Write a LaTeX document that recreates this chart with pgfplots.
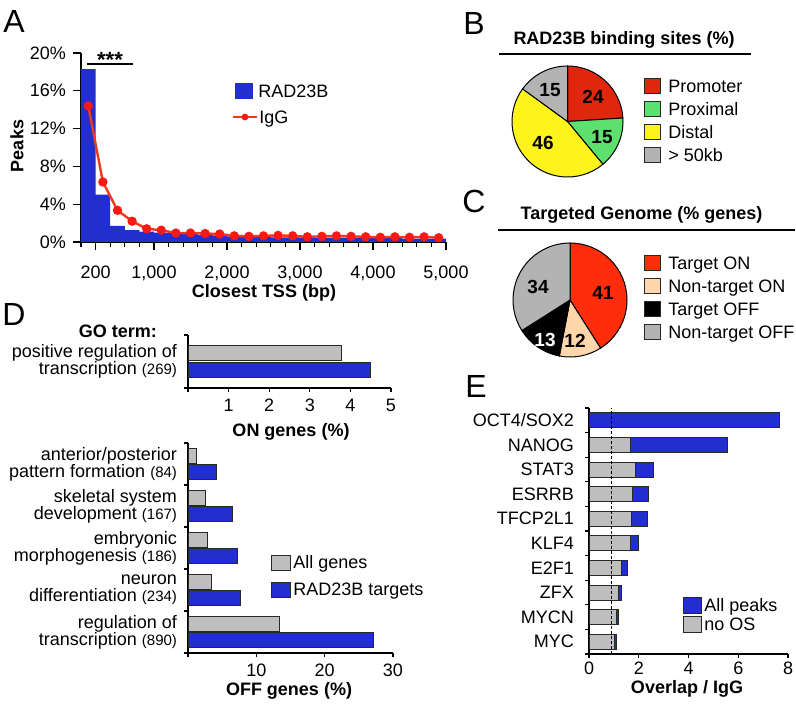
\documentclass[border=0pt]{standalone}
\usepackage{fontspec}
\setmainfont{Liberation Sans}
\usepackage{pgfplots}
\pgfplotsset{compat=1.18}

\definecolor{barblue}{RGB}{33,47,208}
\definecolor{bargray}{RGB}{190,190,190}
\definecolor{edge}{RGB}{40,40,40}
\definecolor{igg}{RGB}{240,58,30}
\definecolor{iggmark}{RGB}{250,25,20}
\definecolor{promoter}{RGB}{224,38,14}
\definecolor{proximal}{RGB}{94,224,110}
\definecolor{distal}{RGB}{255,243,28}
\definecolor{far}{RGB}{179,179,179}
\definecolor{tON}{RGB}{255,45,10}
\definecolor{ntON}{RGB}{255,215,170}
\definecolor{tOFF}{RGB}{0,0,0}
\definecolor{ntOFF}{RGB}{179,179,179}

\newcommand\txt{\fontsize{9}{10.8}\selectfont}
\newcommand\sml{\fontsize{7.5}{9}\selectfont}
\newcommand\letter{\fontsize{16}{19}\selectfont}

\pgfplotsset{
  panel/.style={
    scale only axis, clip=false,
    axis x line*=bottom, axis y line*=left,
    axis line style={line width=0.6pt},
    every tick/.style={black, line width=0.6pt},
    tick align=outside,
    major tick length=2pt, minor tick length=2pt,
    ticklabel style={font=\txt},
    /pgf/number format/assume math mode=true,
  },
  pie/.style={scale only axis, hide axis, clip=false, anchor=center,
    xmin=-1, xmax=1, ymin=-1, ymax=1},
}
% pie slice: start %, end %, colour, radius
\newcommand\pieslice[4]{\filldraw[fill=#3, draw=black, line width=0.5pt]
  (axis cs:0,0) -- ++({90-3.6*#1}:#4) arc[start angle={90-3.6*#1}, end angle={90-3.6*#2}, radius=#4] -- cycle;}
% legend key: x1, x2, y centre, height, colour, text x, text
\newcommand\legbox[7]{\filldraw[fill=#5, draw=edge, line width=0.5pt] (#1,#3-#4/2) rectangle (#2,#3+#4/2);
  \node[anchor=base west] at (#6,#3+6.4) {#7};}

\begin{document}
\begin{tikzpicture}
\useasboundingbox (0,0) rectangle (398pt,-352.5pt);

% ---- A
\begin{axis}[panel, at={(40.5pt,-121pt)}, anchor=south west,
  width=182.5pt, height=94.5pt,
  xmin=0, xmax=5000, ymin=0, ymax=20,
  major tick length=4pt, minor tick length=2.5pt,
  xtick={200,1000,2000,3000,4000,5000}, minor xtick={0,200,...,5000},
  scaled x ticks=false,
  xticklabel style={yshift=-4.5pt, /pgf/number format/1000 sep={,}},
  ytick={0,4,...,20}, yticklabel={\pgfmathprintnumber{\tick}\%},
]
\addplot[const plot, fill=barblue, draw=none] coordinates {
  (0,18.3) (200,5.0) (400,1.7) (600,1.25) (800,1.1) (1000,1.0) (1200,0.95)
  (1400,0.85) (1600,0.75) (1800,0.7) (2000,0.6) (2200,0.55) (2400,0.55)
  (2600,0.5) (2800,0.5) (3000,0.5) (3200,0.45) (3400,0.45) (3600,0.45)
  (3800,0.4) (4000,0.4) (4200,0.4) (4400,0.35) (4600,0.35) (4800,0.35) (5000,0.35)
} \closedcycle;
\addplot[igg, line width=1.2pt, mark=*, mark size=1.7pt, mark options={fill=iggmark, draw=iggmark}] coordinates {
  (100,14.4) (300,6.35) (500,3.35) (700,2.2) (900,1.4) (1100,1.25) (1300,0.95)
  (1500,0.95) (1700,0.9) (1900,0.85) (2100,0.65) (2300,0.6) (2500,0.65)
  (2700,0.7) (2900,0.65) (3100,0.55) (3300,0.6) (3500,0.65) (3700,0.6)
  (3900,0.55) (4100,0.5) (4300,0.55) (4500,0.5) (4700,0.55) (4900,0.45)
};
\end{axis}

% ---- B
\begin{axis}[pie, at={(283.75pt,-60.75pt)}, width=55.5pt, height=55.5pt]
\pieslice{0}{24}{promoter}{27.75pt}
\pieslice{24}{39}{proximal}{27.75pt}
\pieslice{39}{85}{distal}{27.75pt}
\pieslice{85}{100}{far}{27.75pt}
\end{axis}

% ---- C
\begin{axis}[pie, at={(285pt,-150pt)}, width=57pt, height=57pt]
\pieslice{0}{41}{tON}{28.5pt}
\pieslice{41}{53}{ntON}{28.5pt}
\pieslice{53}{66}{tOFF}{28.5pt}
\pieslice{66}{100}{ntOFF}{28.5pt}
\end{axis}

% ---- D, ON genes
\begin{axis}[panel, at={(94pt,-194pt)}, anchor=south west,
  width=101.5pt, height=26.5pt, xmin=0, xmax=5, ymin=0, ymax=1,
  xtick={0,...,5}, xticklabels={,1,2,3,4,5},
  ytick={0.5}, minor ytick={0,1},
  yticklabels={{positive regulation of\\transcription {\sml(269)}}},
  every major y tick/.append style={draw=none},
  yticklabel style={align=right, font=\fontsize{9}{8.5}\selectfont},
]
\addplot[xbar, bar width=7.5pt, bar shift=0pt, fill=bargray, draw=edge, line width=0.5pt] coordinates {(3.78,0.66)};
\addplot[xbar, bar width=7.5pt, bar shift=0pt, fill=barblue, draw=edge, line width=0.5pt] coordinates {(4.50,0.34)};
\end{axis}

% ---- D, OFF genes
\begin{axis}[panel, at={(94pt,-326.5pt)}, anchor=south west,
  width=102.5pt, height=105pt, xmin=0, xmax=30, ymin=0, ymax=5,
  xtick={0,10,20,30}, xticklabels={,10,20,30},
  ytick={0.5,1.5,...,4.5}, minor ytick={0,...,5},
  yticklabels={{regulation of\\transcription {\sml(890)}},
               {neuron\\differentiation {\sml(234)}},
               {embryonic\\morphogenesis {\sml(186)}},
               {skeletal system\\development {\sml(167)}},
               {anterior/posterior\\pattern formation {\sml(84)}}},
  every major y tick/.append style={draw=none},
  yticklabel style={align=right, font=\fontsize{9}{8.5}\selectfont},
]
\addplot[xbar, bar width=7.5pt, bar shift=0pt, fill=bargray, draw=edge, line width=0.5pt] coordinates {
  (13.4,0.70) (3.5,1.70) (2.85,2.70) (2.55,3.70) (1.3,4.70)};
\addplot[xbar, bar width=7.5pt, bar shift=0pt, fill=barblue, draw=edge, line width=0.5pt] coordinates {
  (27.1,0.31) (7.7,1.31) (7.3,2.31) (6.45,3.31) (4.15,4.31)};
\end{axis}

% ---- E
\begin{axis}[panel, at={(294.5pt,-327pt)}, anchor=south west,
  width=99.5pt, height=123pt, xmin=0, xmax=8, ymin=0, ymax=10,
  xtick={0,2,...,8}, xticklabel style={yshift=1.5pt},
  ytick={0.5,1.5,...,9.5}, minor ytick={0,...,10},
  yticklabels={MYC,MYCN,ZFX,E2F1,KLF4,TFCP2L1,ESRRB,STAT3,NANOG,OCT4/SOX2},
  every major y tick/.append style={draw=none},
  yticklabel style={xshift=-2pt},
]
\addplot[xbar, bar width=7.5pt, bar shift=0pt, fill=barblue, draw=edge, line width=0.5pt] coordinates {
  (1.10,0.5) (1.19,1.5) (1.32,2.5) (1.56,3.5) (1.97,4.5) (2.35,5.5) (2.40,6.5) (2.59,7.5) (5.58,8.5) (7.65,9.5)};
\addplot[xbar, bar width=7.5pt, bar shift=0pt, fill=bargray, draw=edge, line width=0.5pt] coordinates {
  (1.02,0.5) (1.10,1.5) (1.20,2.5) (1.32,3.5) (1.68,4.5) (1.70,5.5) (1.74,6.5) (1.85,7.5) (1.68,8.5)};
\draw[line width=0.5pt, dash pattern=on 1.5pt off 1pt] (axis cs:0.91,0) -- (axis cs:0.91,10);
\end{axis}

% ---- text, titles and legends (pixel grid of the reference)
\begin{scope}[x=0.5pt, y=-0.5pt, every node/.style={inner sep=0pt, font=\txt}]
  \node[anchor=base west, font=\letter] at (3,33) {A};
  \node[anchor=base west, font=\letter] at (463,35) {B};
  \node[anchor=base west, font=\letter] at (462,213) {C};
  \node[anchor=base west, font=\letter] at (2,325) {D};
  \node[anchor=base west, font=\letter] at (465,397) {E};

  % A
  \node[rotate=90, font=\txt\bfseries] at (17,146) {Peaks};
  \node[anchor=base, font=\txt\bfseries] at (264,298) {Closest TSS (bp)};
  \draw[line width=0.6pt] (87,64) -- (133,64);
  \node[anchor=base, font=\fontsize{11}{12}\selectfont\bfseries] at (110,68) {***};
  \fill[barblue] (235,83) rectangle (253,99);
  \node[anchor=base west] at (258,97.4) {RAD23B};
  \draw[igg, line width=1.2pt] (233,117) -- (257,117);
  \fill[iggmark] (245,117) circle (1.7pt);
  \node[anchor=base west] at (259,123.4) {IgG};

  % B
  \node[font=\txt\bfseries] at (624,40) {RAD23B binding sites (\%)};
  \draw[line width=0.7pt] (499,54) -- (751,54);
  \begin{scope}[every node/.style={inner sep=0pt, font=\fontsize{9.5}{11}\selectfont\bfseries}]
    \node at (593,97) {24};
    \node at (602,137) {15};
    \node at (543,143) {46};
    \node at (550,90) {15};
  \end{scope}
  \legbox{644}{660}{86}{15}{promoter}{668}{Promoter}
  \legbox{644}{660}{109}{15}{proximal}{668}{Proximal}
  \legbox{644}{660}{132}{15}{distal}{668}{Distal}
  \legbox{644}{660}{155}{15}{far}{668}{> 50kb}

  % C
  \node[font=\txt\bfseries] at (641.5,215) {Targeted Genome (\% genes)};
  \draw[line width=0.7pt] (498,230) -- (795,230);
  \begin{scope}[every node/.style={inner sep=0pt, font=\fontsize{9.5}{11}\selectfont\bfseries}]
    \node at (603,293) {41};
    \node at (538,287) {34};
    \node[white] at (545,340) {13};
    \node at (575,341) {12};
  \end{scope}
  \legbox{644}{660}{263}{15}{tON}{668}{Target ON}
  \legbox{644}{660}{286}{15}{ntON}{668}{Non-target ON}
  \legbox{644}{660}{309}{15}{tOFF}{668}{Target OFF}
  \legbox{644}{660}{332}{15}{ntOFF}{668}{Non-target OFF}

  % D
  \node[anchor=base, font=\txt\bfseries] at (118,337) {GO term:};
  \node[anchor=base, font=\txt\bfseries] at (291,436) {ON genes (\%)};
  \node[anchor=base, font=\txt\bfseries] at (289,695) {OFF genes (\%)};
  \legbox{271}{290}{562.5}{15}{bargray}{293}{All genes}
  \legbox{271}{290}{589.5}{15}{barblue}{293}{RAD23B targets}

  % E
  \node[anchor=base, font=\txt\bfseries] at (687,693) {Overlap / IgG};
  \legbox{683}{701}{605}{16}{barblue}{704}{All peaks}
  \legbox{683}{701}{624}{16}{bargray}{704}{no OS}
\end{scope}
\end{tikzpicture}
\end{document}
